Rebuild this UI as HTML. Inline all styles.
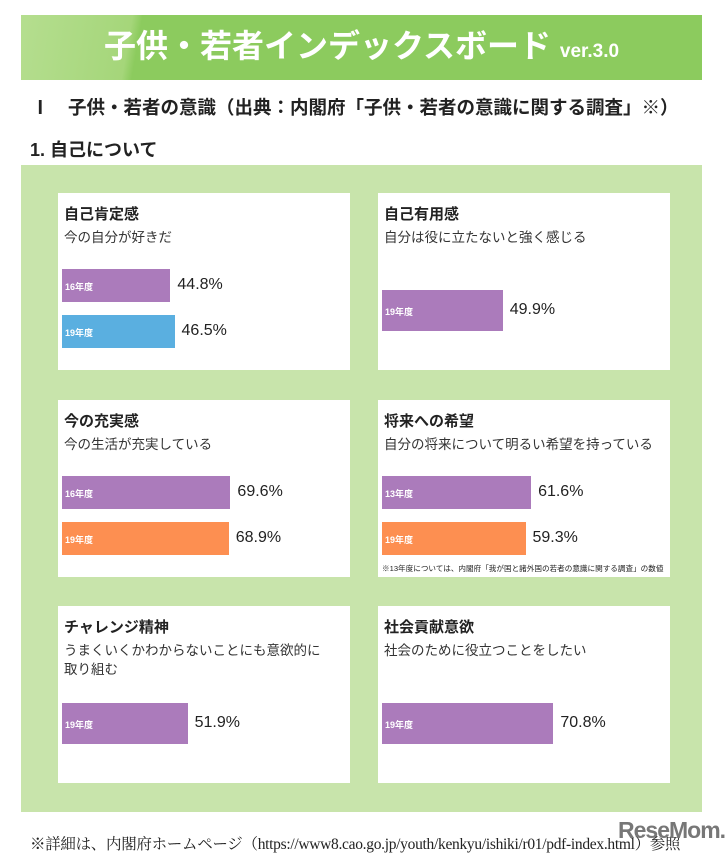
<!DOCTYPE html>
<html><head><meta charset="utf-8">
<style>
body{margin:0;width:727px;height:855px;background:#fff;position:relative;overflow:hidden;font-family:"Liberation Sans","Noto Sans CJK JP",sans-serif;color:#222}
.abs{position:absolute}
.card{position:absolute;background:#fff}
.ct{position:absolute;left:6px;top:10px;font-size:15px;font-weight:bold;white-space:nowrap}
.cs{position:absolute;left:6px;top:35px;font-size:13.5px;line-height:19px;color:#333}
.bar{position:absolute}
.bl{position:absolute;left:3px;font-size:9px;font-weight:bold;color:#fff;white-space:nowrap}
.bv{position:absolute;font-size:16px;white-space:nowrap;color:#222}
</style></head><body>
<div class="abs" style="left:21px;top:15px;width:681px;height:65px;background:linear-gradient(100deg,#b5de8f 0,#a5d67a 110px,#8ccb5e 120px,#8ccb5e 100%)"></div>
<div class="abs" style="left:21px;top:21px;width:681px;text-align:center;color:#fff;font-weight:bold;font-size:32px;white-space:nowrap">子供・若者インデックスボード <span style="font-size:19px">ver.3.0</span></div>
<div class="abs" style="left:31px;top:94px;font-size:18.5px;font-weight:bold;white-space:nowrap">Ⅰ　子供・若者の意識（出典：内閣府「子供・若者の意識に関する調査」※）</div>
<div class="abs" style="left:30px;top:136px;font-size:18px;font-weight:bold;white-space:nowrap">1. 自己について</div>
<div class="abs" style="left:21px;top:165px;width:681px;height:647px;background:#c8e4ab"></div>
<div id="cards"></div>
<div class="abs" style="left:30px;top:832px;font-size:15.5px;white-space:nowrap;font-family:'Liberation Serif','Noto Serif CJK SC',serif;letter-spacing:-0.3px">※詳細は、内閣府ホームページ（https://www8.cao.go.jp/youth/kenkyu/ishiki/r01/pdf-index.html）参照</div>
<div class="abs" style="left:618px;top:817px;font-size:23px;font-weight:bold;color:#777;letter-spacing:-1px">ReseMom.</div>
<script>
const titles=["自己肯定感","自己有用感","今の充実感","将来への希望","チャレンジ精神","社会貢献意欲"];
const subtitles=["今の自分が好きだ","自分は役に立たないと強く感じる","今の生活が充実している","自分の将来について明るい希望を持っている","うまくいくかわからないことにも意欲的に<br>取り組む","社会のために役立つことをしたい"];
const yearLabels=[["16年度","19年度"],["19年度"],["16年度","19年度"],["13年度","19年度"],["19年度"],["19年度"]];
const values=[[44.8,46.5],[49.9],[69.6,68.9],[61.6,59.3],[51.9],[70.8]];
const colors=[["#ab7bbb","#5aafe0"],["#ab7bbb"],["#ab7bbb","#fd8f51"],["#ab7bbb","#fd8f51"],["#ab7bbb"],["#ab7bbb"]];
const notes=["","","","※13年度については、内閣府「我が国と諸外国の若者の意識に関する調査」の数値","",""];
const PX=2.42;
const xScale=v=>v*PX;
const root=document.getElementById('cards');
const cardX=[58,378],cardY=[193,400,606];
titles.forEach((t,i)=>{
  const c=document.createElement('div');c.className='card';
  
  
  c.style.left=cardX[i%2]+'px';c.style.top=cardY[Math.floor(i/2)]+'px';
  c.style.width='292px';c.style.height='177px';
  const h=document.createElement('div');h.className='ct';h.textContent=t;
  
  
  c.appendChild(h);
  const s=document.createElement('div');s.className='cs';s.innerHTML=subtitles[i];
  
  
  c.appendChild(s);
  const n=values[i].length;
  values[i].forEach((v,j)=>{
    const top=n===2?(76+j*46):97, hh=n===2?33:41;
    const b=document.createElement('div');b.className='bar';
    
    
    b.style.left='4px';b.style.top=top+'px';b.style.height=hh+'px';
    b.style.width=xScale(v)+'px';b.style.background=colors[i][j];
    const l=document.createElement('div');l.className='bl';l.textContent=yearLabels[i][j];
    l.style.top=(hh/2-6)+'px';
    b.appendChild(l);c.appendChild(b);
    const vl=document.createElement('div');vl.className='bv';vl.textContent=v.toFixed(1)+'%';
    
    
    vl.style.left=(4+xScale(v)+7)+'px';vl.style.top=(top+hh/2-10)+'px';
    c.appendChild(vl);
  });
  if(notes[i]){
    const nt=document.createElement('div');nt.className='abs';nt.textContent=notes[i];
    
    
    nt.style.left='4px';nt.style.top='163px';nt.style.fontSize='7.6px';nt.style.whiteSpace='nowrap';
    c.appendChild(nt);
  }
  root.appendChild(c);
});
</script>
</body></html>
